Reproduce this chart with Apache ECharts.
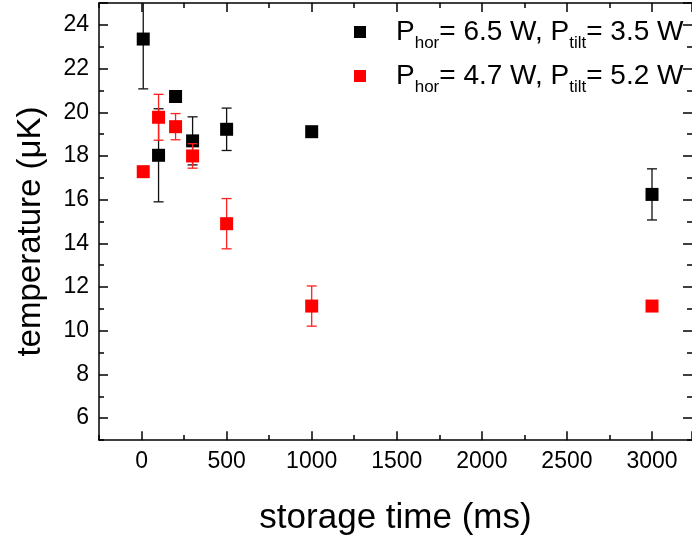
<!DOCTYPE html>
<html>
<head>
<meta charset="utf-8">
<script src="https://cdn.jsdelivr.net/npm/echarts@6/dist/echarts.min.js"></script>
<style>html,body{margin:0;padding:0;background:#fff}#c{width:692px;height:537px}</style>
</head>
<body>
<div id="c"></div>
<script>
// ---- data ----
const storageTime = [10, 100, 200, 300, 500, 1000, 3000];
const tempHigh = [23.35, 18.03, 20.72, 18.69, 19.22, 19.11, 16.24];
const errHigh = [2.28, 2.13, 0, 1.1, 0.97, 0, 1.17];
const tempLow = [17.28, 19.77, 19.34, 18.0, 14.9, 11.13, 11.13];
const errLow = [0, 1.05, 0.6, 0.56, 1.15, 0.92, 0];
const xTickLabels = [0, 500, 1000, 1500, 2000, 2500, 3000];
const yTickLabels = [6, 8, 10, 12, 14, 16, 18, 20, 22, 24];
const seriesNames = ['hi', 'lo'];
const legendParts = [['P', 'hor', '= 6.5 W, P', 'tilt', '= 3.5 W'], ['P', 'hor', '= 4.7 W, P', 'tilt', '= 5.2 W']];

const pts = (xs, ys) => xs.map((x, i) => [x, ys[i]]);
const bars = (xs, ys, es) => xs.map((x, i) => [x, ys[i] - es[i], ys[i] + es[i]]).filter((d, i) => es[i] > 0);

function errRenderer(color) {
  return function (params, api) {
    const x = api.value(0), lo = api.value(1), hi = api.value(2);
    const a = api.coord([x, hi]), b = api.coord([x, lo]);
    const w = 5;
    const st = { stroke: color, lineWidth: 1.3 };
    return {
      type: 'group',
      children: [
        { type: 'line', shape: { x1: a[0], y1: a[1], x2: b[0], y2: b[1] }, style: st },
        { type: 'line', shape: { x1: a[0] - w, y1: a[1], x2: a[0] + w, y2: a[1] }, style: st },
        { type: 'line', shape: { x1: b[0] - w, y1: b[1], x2: b[0] + w, y2: b[1] }, style: st }
      ]
    };
  };
}

const FONT = "'Liberation Sans', Arial, sans-serif";
const lineCol = '#000';
const frameLine = { show: true, onZero: false, lineStyle: { color: lineCol, width: 1.5 } };
const noLine = { show: false, onZero: false };
const shortTick = { show: true, inside: true, length: 5, lineStyle: { color: lineCol, width: 1.5 } };
const longTick = { show: true, inside: true, length: 9, lineStyle: { color: lineCol, width: 1.5 } };
const XMAX = 3235;

const chart = echarts.init(document.getElementById('c'), null, { renderer: 'canvas' });
chart.setOption({
  animation: false,
  textStyle: { fontFamily: FONT },
  grid: [
    { left: 99, right: 0, top: 3, bottom: 97, containLabel: false, outerBoundsMode: 'none' },
    { left: 141.54, right: 0, top: 3, bottom: 118.85, containLabel: false, outerBoundsMode: 'none' }
  ],
  xAxis: [
    { gridIndex: 0, type: 'value', position: 'bottom', min: -250, max: XMAX, interval: 250,
      axisLine: frameLine, axisTick: shortTick, splitLine: { show: false },
      axisLabel: { color: '#000', fontSize: 23, margin: 10, fontFamily: FONT, showMaxLabel: false,
        formatter: v => xTickLabels.includes(v) ? String(v) : '' },
      name: 'storage time (ms)', nameLocation: 'middle', nameGap: 61,
      nameTextStyle: { fontSize: 35, color: '#000', fontFamily: FONT } },
    { gridIndex: 0, type: 'value', position: 'top', min: -250, max: XMAX, interval: 250,
      axisLine: frameLine, axisTick: shortTick, splitLine: { show: false }, axisLabel: { show: false } },
    { gridIndex: 1, type: 'value', position: 'bottom', offset: 22, min: 0, max: XMAX - 0.01, interval: 500,
      axisLine: noLine, axisTick: longTick, splitLine: { show: false }, axisLabel: { show: false } },
    { gridIndex: 1, type: 'value', position: 'top', min: 0, max: XMAX - 0.01, interval: 500,
      axisLine: noLine, axisTick: longTick, splitLine: { show: false }, axisLabel: { show: false } }
  ],
  yAxis: [
    { gridIndex: 0, type: 'value', position: 'left', min: 5, max: 25, interval: 1,
      axisLine: frameLine, axisTick: shortTick, splitLine: { show: false },
      axisLabel: { color: '#000', fontSize: 23, margin: 10, fontFamily: FONT,
        formatter: v => yTickLabels.includes(v) ? String(v) : '' },
      name: 'temperature (\u03bcK)', nameLocation: 'middle', nameGap: 52, nameRotate: 90,
      nameTextStyle: { fontSize: 33, color: '#000', fontFamily: FONT, padding: [0, 20, 0, 0] } },
    { gridIndex: 0, type: 'value', position: 'right', min: 5, max: 25, interval: 1,
      axisLine: noLine, axisTick: shortTick, splitLine: { show: false }, axisLabel: { show: false } },
    { gridIndex: 1, type: 'value', position: 'left', offset: 42.54, min: 6, max: 25, interval: 2,
      axisLine: noLine, axisTick: longTick, splitLine: { show: false }, axisLabel: { show: false } },
    { gridIndex: 1, type: 'value', position: 'right', min: 6, max: 25, interval: 2,
      axisLine: noLine, axisTick: longTick, splitLine: { show: false }, axisLabel: { show: false } }
  ],
  legend: {
    data: seriesNames, orient: 'vertical', left: 354, top: 18, padding: 0, itemGap: 10,
    itemWidth: 12, itemHeight: 12, icon: 'rect',
    formatter: name => {
      const p = legendParts[seriesNames.indexOf(name)];
      return '{g| }{a|' + p[0] + '}{s|' + p[1] + '}{a|' + p[2] + '}{s|' + p[3] + '}{a|' + p[4] + '}';
    },
    textStyle: {
      fontFamily: FONT,
      rich: {
        g: { width: 25, fontSize: 10 },
        a: { fontSize: 28, lineHeight: 40, color: '#000', fontFamily: FONT, verticalAlign: 'middle' },
        s: { fontSize: 17, lineHeight: 17, color: '#000', fontFamily: FONT, verticalAlign: 'bottom' }
      }
    }
  },
  series: [
    { type: 'custom', xAxisIndex: 0, yAxisIndex: 0, clip: true, z: 2,
      renderItem: errRenderer('#111'), data: bars(storageTime, tempHigh, errHigh), silent: true },
    { type: 'scatter', name: seriesNames[0], xAxisIndex: 0, yAxisIndex: 0, symbol: 'rect', symbolSize: 13,
      itemStyle: { color: '#000', opacity: 1 }, z: 3, data: pts(storageTime, tempHigh) },
    { type: 'custom', xAxisIndex: 0, yAxisIndex: 0, clip: true, z: 4,
      renderItem: errRenderer('#ff2020'), data: bars(storageTime, tempLow, errLow), silent: true },
    { type: 'scatter', name: seriesNames[1], xAxisIndex: 0, yAxisIndex: 0, symbol: 'rect', symbolSize: 13,
      itemStyle: { color: '#ff0000', opacity: 1 }, z: 5, data: pts(storageTime, tempLow) }
  ]
});
</script>
</body>
</html>
